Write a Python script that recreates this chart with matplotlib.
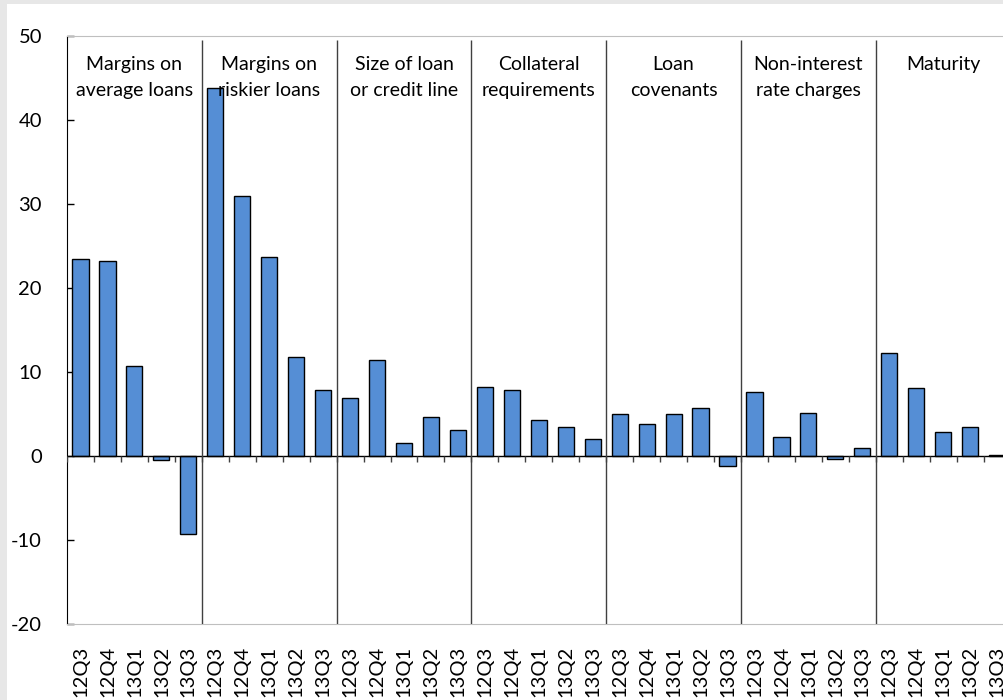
import matplotlib
matplotlib.use("Agg")
import matplotlib.pyplot as plt
from matplotlib.patches import Rectangle
import numpy as np

plt.rcParams["font.family"] = ["Lato", "DejaVu Sans"]
plt.rcParams["axes.unicode_minus"] = False

# Survey categories (loan terms) and the quarters shown in each
groups = [
    "Margins on\naverage loans",
    "Margins on\nriskier loans",
    "Size of loan\nor credit line",
    "Collateral\nrequirements",
    "Loan\ncovenants",
    "Non-interest\nrate charges",
    "Maturity",
]
quarters = ["12Q3", "12Q4", "13Q1", "13Q2", "13Q3"]

# Net percentage balances per category, by quarter
margins_average = [23.5, 23.2, 10.7, -0.5, -9.3]
margins_riskier = [43.8, 31.0, 23.7, 11.8, 7.8]
size_of_loan = [6.9, 11.4, 1.5, 4.7, 3.1]
collateral = [8.2, 7.8, 4.3, 3.5, 2.0]
covenants = [5.0, 3.8, 5.0, 5.7, -1.2]
non_interest = [7.6, 2.3, 5.1, -0.3, 0.9]
maturity = [12.3, 8.1, 2.8, 3.5, 0.1]

series = [margins_average, margins_riskier, size_of_loan, collateral,
          covenants, non_interest, maturity]
values = [v for s in series for v in s]
labels = quarters * len(groups)
n_per = len(quarters)
x = np.arange(len(values))

W, H = 1004, 700
fig = plt.figure(figsize=(W / 100, H / 100), dpi=100)
fig.patch.set_facecolor("#e7e7e7")
fig.patches.append(Rectangle((7 / W, 0), 1, (H - 4) / H, transform=fig.transFigure,
                             facecolor="white", edgecolor="none", zorder=-10))

left_px, top_px, bottom_px = 67, 36, 624
group_px = 134.8
ax = fig.add_axes([left_px / W, 1 - bottom_px / H,
                   group_px * len(groups) / W, (bottom_px - top_px) / H])
ax.set_facecolor("none")

ax.bar(x, values, width=0.6, color="#558ed5", edgecolor="black",
       linewidth=1.0, zorder=3)

ax.set_xlim(-0.5, len(values) - 0.5)
ax.set_ylim(-20, 50)
ax.set_yticks(np.arange(-20, 51, 10))

ax.tick_params(axis="y", direction="in", length=5, width=1, color="black",
               labelsize=14.5, pad=18)
ax.set_xticks(x)
ax.set_xticklabels(labels, rotation=90, fontsize=14.5)
ax.tick_params(axis="x", length=0, pad=16)

ax.spines["right"].set_visible(False)
ax.spines["left"].set_color("black")
ax.spines["top"].set_color("#bfbfbf")
ax.spines["bottom"].set_color("#bfbfbf")

# zero line with category tick marks hanging below it
ax.axhline(0, color="black", linewidth=1.0, zorder=4)
bounds = np.arange(len(values) + 1) - 0.5
ax.vlines(bounds, -0.75, 0, color="#404040", linewidth=1.0, zorder=4)

# group separators
for g in range(1, len(groups)):
    ax.vlines(g * n_per - 0.5, -20, 49.5, color="#404040", linewidth=1.0, zorder=4)

# group titles
for g, name in enumerate(groups):
    ax.text(g * n_per + (n_per - 1) / 2, 47.6, name, ha="center", va="top",
            fontsize=14, linespacing=1.6, zorder=5)

fig.savefig("out.png", dpi=100, facecolor=fig.get_facecolor())
